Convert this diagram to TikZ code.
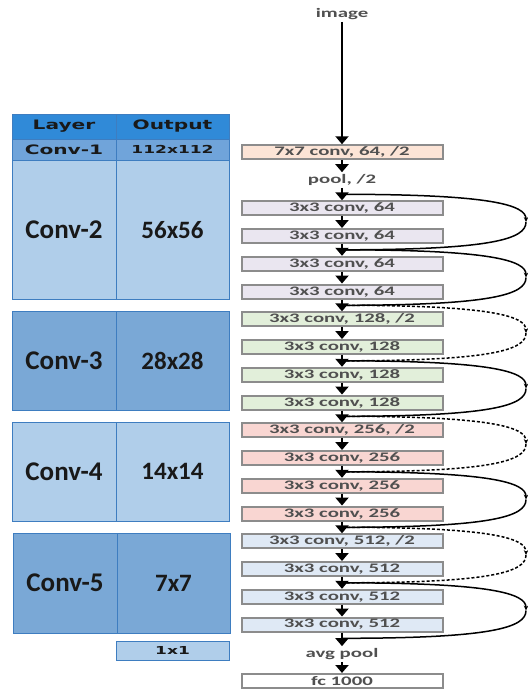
\documentclass[tikz,border=0pt]{standalone}
\usepackage{fontspec}
\setmainfont{Carlito}
\newfontfamily\boxfont[FakeStretch=1.6]{Carlito}
\newfontfamily\tabfont[FakeStretch=1.55]{DejaVu Sans}
\usetikzlibrary{arrows.meta}
\definecolor{hdrblue}{RGB}{48,138,216}
\definecolor{rowone}{RGB}{112,164,218}
\definecolor{lightcell}{RGB}{176,206,234}
\definecolor{darkcell}{RGB}{122,168,214}
\definecolor{cellline}{RGB}{62,125,192}
\definecolor{peach}{RGB}{252,228,214}
\definecolor{lav}{RGB}{234,230,240}
\definecolor{grn}{RGB}{226,239,218}
\definecolor{pnk}{RGB}{249,214,210}
\definecolor{lblu}{RGB}{223,233,245}
\definecolor{boxline}{RGB}{140,140,140}
\definecolor{boxtext}{RGB}{80,80,80}
\tikzset{
  cell/.style={draw=cellline,line width=0.9pt,inner sep=0pt},
  lcol/.style={cell,minimum width=104},
  rcol/.style={cell,minimum width=113},
  hdr/.style={font=\tabfont\bfseries\fontsize{13}{13}\selectfont,text=black!90},
  big/.style={font=\bfseries\fontsize{27}{27}\selectfont,text=black!90},
  num/.style={font=\bfseries\fontsize{25}{25}\selectfont},
  convbox/.style={draw=boxline,line width=2pt,minimum width=201,minimum height=14,
    inner sep=0pt,font=\boxfont\bfseries\fontsize{13}{13}\selectfont,text=boxtext},
  lbl/.style={inner sep=2pt,font=\boxfont\bfseries\fontsize{13}{13}\selectfont,text=boxtext},
  flow/.style={line width=2.5pt,-{Triangle[width=13pt,length=8pt]}},
  skip/.style={line width=1.5pt},
  skipd/.style={line width=1.5pt,dash pattern=on 3pt off 2pt}
}
\begin{document}
\begin{tikzpicture}[x=1pt,y=-1pt]
\useasboundingbox (0,0) rectangle (528,689);
% table on the left
\node[lcol,fill=hdrblue,minimum height=25,hdr] (hlayer) at (64,126.5) {Layer};
\node[rcol,fill=hdrblue,minimum height=25,hdr] (hout) at (172.5,126.5) {Output};
\node[lcol,fill=rowone,minimum height=21.5,hdr] (l1) at (64,149.75) {Conv-1};
\node[rcol,fill=rowone,minimum height=21.5,hdr,font=\tabfont\bfseries\fontsize{11}{11}\selectfont] (o1) at (172.5,149.75) {112x112};
\node[lcol,fill=lightcell,minimum height=138.5,big] (l2) at (64,229.75) {Conv-2};
\node[rcol,fill=lightcell,minimum height=138.5,big,num] (o2) at (172.5,229.75) {56x56};
\node[lcol,fill=darkcell,minimum height=98.5,big] (l3) at (64,360.75) {Conv-3};
\node[rcol,fill=darkcell,minimum height=98.5,big,num] (o3) at (172.5,360.75) {28x28};
\node[lcol,fill=lightcell,minimum height=98.5,big] (l4) at (64,471.75) {Conv-4};
\node[rcol,fill=lightcell,minimum height=98.5,big,num] (o4) at (172.5,471.75) {14x14};
\node[lcol,fill=darkcell,minimum height=100,big] (l5) at (65,583) {Conv-5};
\node[rcol,fill=darkcell,minimum height=100,big,num] (o5) at (173.5,583) {7x7};
\node[rcol,fill=lightcell,minimum height=19,hdr,font=\tabfont\bfseries\fontsize{11}{11}\selectfont] (o6) at (172.5,650.5) {1x1};
% network on the right
\node[lbl] (img) at (342,14) {image};
\node[convbox,fill=peach,minimum height=13.5] (c1) at (342,152) {7x7 conv, 64, /2};
\node[lbl] (pool) at (342,180) {pool, /2};
\foreach \n/\col/\half [count=\i from 0] in {64/lav/0,64/lav/0,64/lav/0,64/lav/0,
    128/grn/1,128/grn/0,128/grn/0,128/grn/0,256/pnk/1,256/pnk/0,256/pnk/0,256/pnk/0,
    512/lblu/1,512/lblu/0,512/lblu/0,512/lblu/0}
  \node[convbox,fill=\col] (b\i) at (342,{208.3+27.75*\i}) {3x3 conv, \n\ifnum\half=1, /2\fi};
\node[lbl] (avg) at (342,654) {avg pool};
\node[convbox,fill=white] (fc) at (342,681) {fc 1000};
\draw[flow] (img) -- (c1);
\draw[flow] (c1) -- (pool);
\draw[flow] (pool) -- (b0);
\foreach \i [evaluate=\i as \j using int(\i+1)] in {0,...,14}
  \draw[flow] (b\i) -- (b\j);
\draw[flow] (b15) -- (avg);
\draw[flow] (avg) -- (fc);
% shortcut connections
\foreach \i in {0,...,16}
  \coordinate (j\i) at (342,{194.3+27.75*\i});
\foreach \a/\s in {0/skip,2/skip,4/skipd,6/skip,8/skipd,10/skip,12/skipd,14/skip}{
  \pgfmathtruncatemacro\b{\a+2}
  \coordinate (t\a) at (526,{194.3+27.75*\a+27.75});
  \draw[\s,-{Stealth[length=5pt,width=4.5pt]}] (j\a) .. controls +(150,0) and +(0,-17) .. (t\a);
  \draw[\s] (t\a) .. controls +(0,17) and +(150,0) .. (j\b);
}
\end{tikzpicture}
\end{document}
